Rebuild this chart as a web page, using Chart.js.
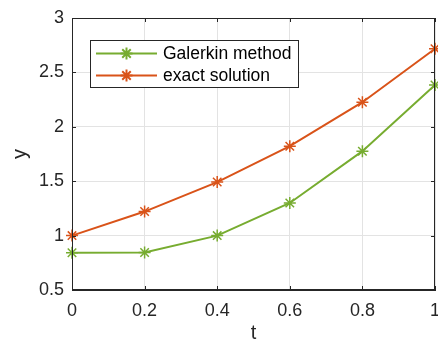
<!DOCTYPE html>
<html lang="en">
<head>
    <meta charset="utf-8">
    <title>Galerkin vs exact</title>
    <style>
        * { margin: 0; padding: 0; box-sizing: border-box; }
        body { background: #ffffff; width: 438px; height: 345px; overflow: hidden; }
        .wrapper { position: relative; width: 438px; height: 345px; }
    </style>
</head>
<body>
    <div class="wrapper">
        <canvas id="chart" width="438" height="345"></canvas>
    </div>

    <script src="https://cdn.jsdelivr.net/npm/chart.js@4/dist/chart.umd.min.js"></script>
    <script>
        // Data
        const tValues = [0, 0.2, 0.4, 0.6, 0.8, 1];
        const galerkin = [0.843, 0.845, 1.0, 1.30, 1.776, 2.384];
        const exact = [1.0, 1.221, 1.492, 1.822, 2.226, 2.718];
        const seriesNames = ["Galerkin method", "exact solution"];
        const seriesColors = ["#77AC30", "#D95319"];
        const xTicks = [0, 0.2, 0.4, 0.6, 0.8, 1];
        const yTicks = [0.5, 1, 1.5, 2, 2.5, 3];

        const textColor = "#262626";
        const fontFamily = "'Liberation Sans', Arial, sans-serif";

        const toPoints = (ys) => tValues.map((t, i) => ({ x: t, y: ys[i] }));

        // Box around the plot area, inward ticks and the legend inside the axes
        const matlabAxes = {
            id: "matlabAxes",
            afterDraw(chart) {
                const ctx = chart.ctx;
                const a = chart.chartArea;
                const xs = chart.scales.x;
                const ys = chart.scales.y;
                ctx.save();
                ctx.strokeStyle = textColor;
                ctx.lineWidth = 1;
                ctx.strokeRect(a.left + 0.5, a.top + 0.5, a.right - a.left - 1, a.bottom - a.top - 1);
                ctx.beginPath();
                xTicks.forEach((v) => {
                    const px = Math.round(xs.getPixelForValue(v)) + 0.5;
                    ctx.moveTo(px, a.bottom); ctx.lineTo(px, a.bottom - 4);
                    ctx.moveTo(px, a.top); ctx.lineTo(px, a.top + 4);
                });
                yTicks.forEach((v) => {
                    const py = Math.round(ys.getPixelForValue(v)) + 0.5;
                    ctx.moveTo(a.left, py); ctx.lineTo(a.left + 4, py);
                    ctx.moveTo(a.right, py); ctx.lineTo(a.right - 4, py);
                });
                ctx.stroke();

                // legend box
                const lx = 90.5, ly = 40.5, lw = 208, lh = 47;
                ctx.fillStyle = "#ffffff";
                ctx.fillRect(lx, ly, lw, lh);
                ctx.strokeStyle = "#262626";
                ctx.strokeRect(lx, ly, lw, lh);
                ctx.font = "17.5px " + fontFamily;
                ctx.textBaseline = "middle";
                seriesNames.forEach((name, i) => {
                    const y = 53.5 + i * 22;
                    ctx.strokeStyle = seriesColors[i];
                    ctx.lineWidth = 2;
                    ctx.beginPath();
                    ctx.moveTo(96, y); ctx.lineTo(157, y);
                    ctx.stroke();
                    Chart.helpers.drawPoint(ctx, { pointStyle: "star", radius: 6, borderWidth: 1.5 }, 126.5, y);
                    ctx.fillStyle = "#000000";
                    ctx.fillText(name, 163, y + 1);
                });
                ctx.restore();
            }
        };

        const chart = new Chart(document.getElementById("chart"), {
            type: "line",
            plugins: [matlabAxes],
            data: {
                datasets: [
                    { label: seriesNames[0], data: toPoints(galerkin) },
                    { label: seriesNames[1], data: toPoints(exact) }
                ].map((d, i) => Object.assign(d, {
                    borderColor: seriesColors[i],
                    backgroundColor: seriesColors[i],
                    borderWidth: 2,
                    pointStyle: "star",
                    pointRadius: 6,
                    pointBorderWidth: 1.5,
                    pointBorderColor: seriesColors[i],
                    tension: 0,
                    fill: false,
                    clip: false
                }))
            },
            options: {
                responsive: false,
                animation: false,
                devicePixelRatio: 1,
                layout: { autoPadding: false, padding: { top: 18, right: 3, left: 0, bottom: 0 } },
                plugins: {
                    legend: { display: false },
                    tooltip: { enabled: false }
                },
                scales: {
                    x: {
                        type: "linear",
                        min: 0,
                        max: 1,
                        afterBuildTicks: (s) => { s.ticks = xTicks.map((v) => ({ value: v })); },
                        afterFit: (s) => { s.height = 55; s.paddingLeft = 0; s.paddingRight = 0; },
                        grid: { color: "#e3e3e3", tickLength: 0, drawTicks: false },
                        border: { color: textColor },
                        ticks: {
                            color: textColor,
                            padding: 10,
                            maxRotation: 0,
                            callback: (v) => String(v),
                            font: { family: fontFamily, size: 18 }
                        },
                        title: {
                            display: true,
                            text: "t",
                            color: textColor,
                            padding: { top: 0, bottom: 0 },
                            font: { family: fontFamily, size: 20 }
                        }
                    },
                    y: {
                        min: 0.5,
                        max: 3,
                        afterBuildTicks: (s) => { s.ticks = yTicks.map((v) => ({ value: v })); },
                        afterFit: (s) => { s.width = 72; s.paddingTop = 0; s.paddingBottom = 0; },
                        grid: { color: "#e3e3e3", tickLength: 0, drawTicks: false },
                        border: { color: textColor },
                        ticks: {
                            color: textColor,
                            padding: 8,
                            callback: (v) => String(v),
                            font: { family: fontFamily, size: 18 }
                        },
                        title: {
                            display: true,
                            text: "y",
                            color: textColor,
                            padding: { top: 8, bottom: 0 },
                            font: { family: fontFamily, size: 20 }
                        }
                    }
                }
            }
        });
    </script>
</body>
</html>
